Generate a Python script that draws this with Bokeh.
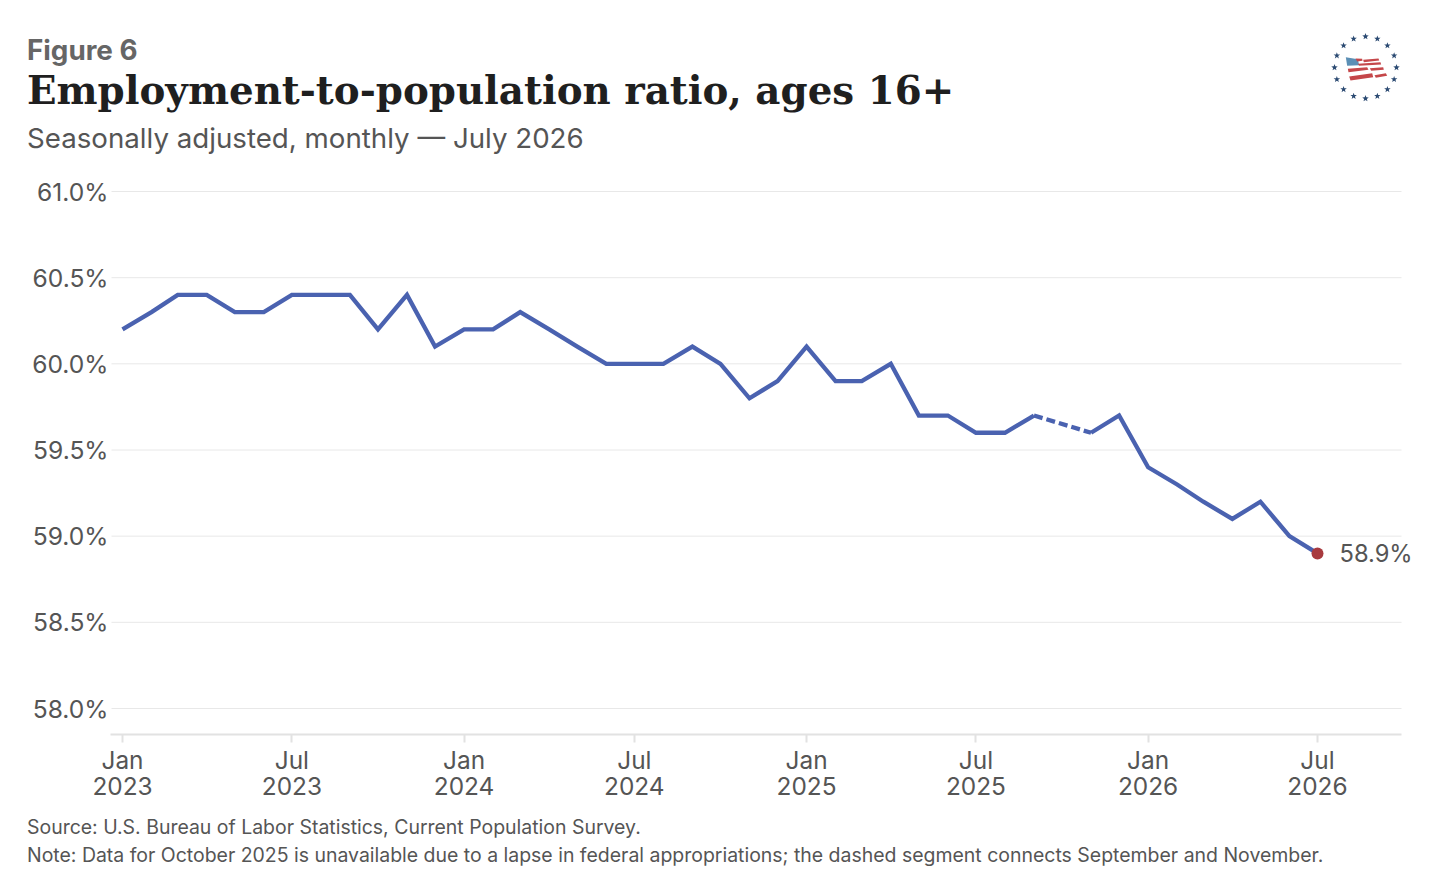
import math
from datetime import datetime
from bokeh.embed import file_html
from bokeh.resources import INLINE
from bokeh.models import Label, PolyAnnotation, Range1d, FixedTicker
from bokeh.plotting import figure

months = ["2023-01","2023-02","2023-03","2023-04","2023-05","2023-06","2023-07","2023-08","2023-09","2023-10","2023-11","2023-12",
          "2024-01","2024-02","2024-03","2024-04","2024-05","2024-06","2024-07","2024-08","2024-09","2024-10","2024-11","2024-12",
          "2025-01","2025-02","2025-03","2025-04","2025-05","2025-06","2025-07","2025-08","2025-09","2025-10","2025-11","2025-12",
          "2026-01","2026-02","2026-03","2026-04","2026-05","2026-06","2026-07"]
ratio = [60.2,60.3,60.4,60.4,60.3,60.3,60.4,60.4,60.4,60.2,60.4,60.1,
         60.2,60.2,60.3,60.2,60.1,60.0,60.0,60.0,60.1,60.0,59.8,59.9,
         60.1,59.9,59.9,60.0,59.7,59.7,59.6,59.6,59.7,None,59.6,59.7,
         59.4,59.3,59.2,59.1,59.2,59.0,58.9]
y_ticks = [58.0,58.5,59.0,59.5,60.0,60.5,61.0]
x_tick_months = ["2023-01","2023-07","2024-01","2024-07","2025-01","2025-07","2026-01","2026-07"]
x_tick_labels = ["Jan\n2023","Jul\n2023","Jan\n2024","Jul\n2024","Jan\n2025","Jul\n2025","Jan\n2026","Jul\n2026"]

def ms(m):
    return datetime.strptime(m, "%Y-%m").timestamp() * 1000

DAY = 86400000
W, H = 1429, 885
L, R, B = 110, 1401, 734          # pixel extents of the visible chart area
PX_PER_DAY = 1195 / 1277
PX_PER_UNIT = 172.33
t0 = ms("2023-01")
px_x = lambda px: t0 + (px - 122) / PX_PER_DAY * DAY     # pixel -> x data value
px_y = lambda py: 58 + (708 - py) / PX_PER_UNIT          # pixel -> y data value

x = [datetime.strptime(m, "%Y-%m") for m in months]
vals = [float("nan") if v is None else v for v in ratio]

# The frame fills the whole canvas so titles, the end label and the logo are not clipped.
p = figure(width=W, height=H, output_backend="svg", toolbar_location=None,
           x_axis_type="datetime",
           x_range=Range1d(px_x(0), px_x(W)),
           y_range=Range1d(px_y(H), px_y(0)),
           min_border=0)
p.outline_line_color = None
p.background_fill_color = "white"
p.border_fill_color = "white"

INK = "#555555"
p.xgrid.visible = False
p.ygrid.visible = False
p.segment([px_x(L + 1)] * len(y_ticks), y_ticks, [px_x(R)] * len(y_ticks), y_ticks,
          line_color="#e8e8e8", line_width=1)

ya = p.yaxis[0]
ya.fixed_location = px_x(L)
ya.ticker = FixedTicker(ticks=y_ticks)
ya.major_label_overrides = {t: f"{t:.1f}%" for t in y_ticks}
ya.axis_line_color = None
ya.major_tick_line_color = None
ya.minor_tick_line_color = None
ya.major_label_text_font = "Inter"
ya.major_label_text_font_size = "24.6px"
ya.major_label_text_color = INK
ya.major_label_standoff = -4

xa = p.xaxis[0]
ticks = [ms(m) for m in x_tick_months]
xa.fixed_location = px_y(B)
xa.bounds = (px_x(L), px_x(R))
xa.ticker = FixedTicker(ticks=ticks)
xa.major_label_overrides = dict(zip(ticks, x_tick_labels))
xa.axis_line_color = "#e2e2e2"
xa.axis_line_width = 2
xa.major_tick_line_color = "#e2e2e2"
xa.major_tick_line_width = 2
xa.major_tick_out = 8
xa.major_tick_in = 0
xa.minor_tick_line_color = None
xa.major_label_text_font = "Inter"
xa.major_label_text_font_size = "24.4px"
xa.major_label_text_color = INK
xa.major_label_text_line_height = 0.878
xa.major_label_standoff = 2

BLUE = "#4a62b0"
p.line(x, vals, line_color=BLUE, line_width=4.3, line_join="miter")
i9, i11 = months.index("2025-09"), months.index("2025-11")
p.line([x[i9], x[i11]], [ratio[i9], ratio[i11]], line_color=BLUE, line_width=4.3, line_dash=[9, 4])
p.scatter([x[-1]], [ratio[-1]], size=12, fill_color="#a83a3f", line_color="#a83a3f", line_width=0)
p.add_layout(Label(x=ms(months[-1]), y=ratio[-1], x_offset=22, text=f"{ratio[-1]:.1f}%",
                   text_font="Inter", text_font_size="23.7px", text_color=INK, text_baseline="middle"))

def text(s, px, py, font, size, color, style="normal"):
    p.add_layout(Label(x=px_x(px), y=px_y(py), text=s, text_font=font,
                       text_font_size=size, text_color=color, text_font_style=style, text_baseline="alphabetic"))

text("Figure 6", 26.5, 49, "Inter", "27.8px", "#666666", "bold")
text("Employment-to-population ratio, ages 16+", 26.5, 90, "DejaVu Serif", "38.8px", "#1f1f1f", "bold")
text("Seasonally adjusted, monthly \u2014 July 2026", 26.5, 137, "Inter", "27.7px", INK)
text("Source: U.S. Bureau of Labor Statistics, Current Population Survey.", 26.5, 826, "Inter", "19.47px", INK)
text("Note: Data for October 2025 is unavailable due to a lapse in federal appropriations; the dashed segment connects September and November.", 26.5, 854, "Inter", "19.47px", INK)

# Logo: ring of stars and a small waving flag
def poly(pts, color):
    p.add_layout(PolyAnnotation(xs=[px_x(a) for a, b in pts], ys=[px_y(b) for a, b in pts],
                                fill_color=color, fill_alpha=1, line_color=None, line_alpha=0))

cx, cy, rad = 1365, 67, 31
for k in range(16):
    a = 2*math.pi*k/16
    sx, sy = cx + rad*math.sin(a), cy - rad*math.cos(a)
    pts = []
    for j in range(10):
        r = 3.4 if j % 2 == 0 else 1.4
        b = math.pi*j/5
        pts.append((sx + r*math.sin(b), sy - r*math.cos(b)))
    poly(pts, "#2b4a72")

Z = lambda a, b: (1300 + a/3, 20 + b/3)
poly([Z(*q) for q in [(136,110),(172,116),(176,134),(140,136)]], "#5b8fb5")
stripes = [
    [(165,114),(185,115),(186,121),(170,123)],
    [(188,118),(234,114),(236,120),(190,125)],
    [(172,130),(240,125),(242,132),(176,136)],
    [(142,145),(200,140),(204,148),(144,155)],
    [(208,143),(248,140),(250,148),(212,151)],
    [(146,168),(215,158),(218,170),(150,180)],
    [(222,164),(256,158),(260,166),(226,172)],
]
for s in stripes:
    poly([Z(*q) for q in s], "#c5474a")

open("out.html", "w").write(file_html(p, INLINE))
